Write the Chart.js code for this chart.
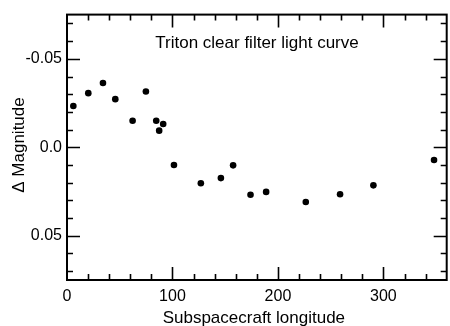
<!DOCTYPE html>
<html>
<head>
<meta charset="utf-8">
<script src="https://cdn.jsdelivr.net/npm/chart.js@4/dist/chart.umd.min.js"></script>
<style>
  body { margin: 0; background: #fff; }
  canvas { display: block; }
</style>
</head>
<body>
<canvas id="lightCurve" width="450" height="326"></canvas>
<script>
// subspacecraft longitude (deg) and delta magnitude
var longitude = [6, 20.2, 34.1, 45.8, 62.2, 74.8, 84.6, 87.4, 91.2, 101.4,
                 126.9, 145.9, 157.5, 174, 188.8, 226.4, 258.9, 290.5, 348];
var deltaMag = [-0.0233, -0.0306, -0.0363, -0.0272, -0.0150, -0.0315, -0.0150, -0.0094, -0.0132, 0.0100,
                0.0203, 0.0174, 0.0102, 0.0268, 0.0252, 0.0309, 0.0265, 0.0215, 0.0072];

var xTicks = [0, 100, 200, 300];
var yTicks = [-0.05, 0, 0.05];
var yTickLabels = ["-0.05", "0.0", "0.05"];

var chartTitle = "Triton clear filter light curve";
var xTitle = "Subspacecraft longitude";
var yTitle = "\u0394 Magnitude";

var FONT = "'Liberation Sans', Arial, Helvetica, sans-serif";

var points = longitude.map(function (x, i) { return { x: x, y: deltaMag[i] }; });

// box, inward ticks on all four sides, and the texts
var framePlugin = {
    id: "frame",
    afterDraw: function (chart) {
        var ctx = chart.ctx;
        var a = chart.chartArea;
        var xs = chart.scales.x, ys = chart.scales.y;
        ctx.save();
        ctx.strokeStyle = "#000";
        ctx.lineWidth = 2;
        ctx.strokeRect(a.left, a.top, a.right - a.left, a.bottom - a.top);

        ctx.lineWidth = 1.6;
        ctx.beginPath();
        for (var v = 20; v < 360; v += 20) {
            var px = Math.round(xs.getPixelForValue(v)) + 0.5;
            var len = (v % 100 === 0) ? 13 : 6;
            ctx.moveTo(px, a.bottom); ctx.lineTo(px, a.bottom - len);
            ctx.moveTo(px, a.top); ctx.lineTo(px, a.top + len);
        }
        for (var k = -7; k <= 7; k++) {
            var py = Math.round(ys.getPixelForValue(k / 100)) + 0.5;
            var len2 = (k % 5 === 0) ? 13 : 6;
            ctx.moveTo(a.left, py); ctx.lineTo(a.left + len2, py);
            ctx.moveTo(a.right, py); ctx.lineTo(a.right - len2, py);
        }
        ctx.stroke();

        ctx.fillStyle = "#000";
        ctx.textAlign = "center";
        ctx.textBaseline = "middle";
        ctx.font = "17px " + FONT;
        ctx.fillText(chartTitle, 257, 43);
        ctx.fillText(xTitle, (a.left + a.right) / 2 - 3, 318);
        ctx.translate(19, 145);
        ctx.rotate(-Math.PI / 2);
        ctx.fillText(yTitle, 0, 0);
        ctx.restore();
    }
};

new Chart(document.getElementById("lightCurve"), {
    type: "scatter",
    data: {
        datasets: [{
            label: "Triton",
            data: points,
            backgroundColor: "#000",
            borderColor: "#000",
            pointRadius: 3.3,
            pointHoverRadius: 3.3,
            borderWidth: 0
        }]
    },
    options: {
        responsive: false,
        animation: false,
        layout: { padding: { top: 11, right: 3, left: 0, bottom: 0 } },
        plugins: {
            legend: { display: false },
            tooltip: { enabled: false }
        },
        scales: {
            x: {
                type: "linear",
                min: 0,
                max: 360,
                grid: { display: false, drawTicks: false },
                border: { display: false },
                afterBuildTicks: function (scale) {
                    scale.ticks = xTicks.map(function (v) { return { value: v }; });
                },
                afterFit: function (scale) { scale.height = 46; },
                ticks: {
                    color: "#000",
                    padding: 7,
                    maxRotation: 0,
                    font: { family: FONT, size: 16 }
                }
            },
            y: {
                min: -0.075,
                max: 0.075,
                reverse: true,
                grid: { display: false, drawTicks: false },
                border: { display: false },
                afterBuildTicks: function (scale) {
                    scale.ticks = yTicks.map(function (v) { return { value: v }; });
                },
                afterFit: function (scale) { scale.width = 67; },
                ticks: {
                    color: "#000",
                    padding: 5,
                    font: { family: FONT, size: 16 },
                    callback: function (value) {
                        var i = yTicks.indexOf(value);
                        return i >= 0 ? yTickLabels[i] : "";
                    }
                }
            }
        }
    },
    plugins: [framePlugin]
});
</script>
</body>
</html>
